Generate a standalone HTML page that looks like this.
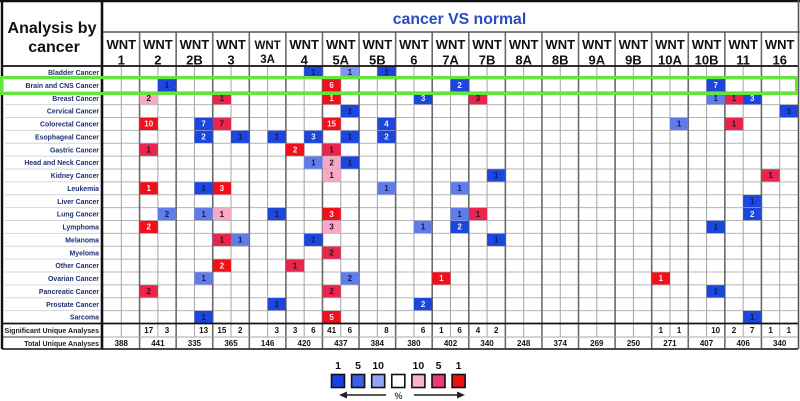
<!DOCTYPE html>
<html>
<head>
<meta charset="utf-8">
<style>
html,body{margin:0;padding:0;background:#fff;}
svg{display:block;font-family:"Liberation Sans",sans-serif;filter:blur(0.35px);}
</style>
</head>
<body>
<svg id="chart" width="800" height="401" viewBox="0 0 800 401" xmlns="http://www.w3.org/2000/svg">
  <text x="52" y="33" font-size="16" font-weight="bold" text-anchor="middle" fill="#111">Analysis by</text>
  <text x="54" y="52" font-size="16" font-weight="bold" text-anchor="middle" fill="#111">cancer</text>
  <text x="459.5" y="24" font-size="15.8" font-weight="bold" text-anchor="middle" fill="#2a4cc0">cancer VS normal</text>
  <g id="grid"></g>
  <g id="cells"></g>
  <g id="labels"></g>
  <g id="frame"></g>
  <rect x="1.5" y="77.5" width="795" height="16" fill="none" stroke="#62e63a" stroke-width="3"></rect>
  <g id="legend"></g>
</svg>
<script>
const genes = ["1","2","2B","3","3A","4","5A","5B","6","7A","7B","8A","8B","9A","9B","10A","10B","11","16"];
const cancers = ["Bladder Cancer","Brain and CNS Cancer","Breast Cancer","Cervical Cancer","Colorectal Cancer","Esophageal Cancer","Gastric Cancer","Head and Neck Cancer","Kidney Cancer","Leukemia","Liver Cancer","Lung Cancer","Lymphoma","Melanoma","Myeloma","Other Cancer","Ovarian Cancer","Pancreatic Cancer","Prostate Cancer","Sarcoma"];
// [cancer, gene, analyses count, percentile rank]
const overExpressed = [
 ["Brain and CNS Cancer","5A",6,1],
 ["Breast Cancer","2",2,10],["Breast Cancer","3",1,5],["Breast Cancer","5A",1,1],["Breast Cancer","7B",3,5],["Breast Cancer","11",1,5],
 ["Colorectal Cancer","2",10,1],["Colorectal Cancer","3",7,5],["Colorectal Cancer","5A",15,1],["Colorectal Cancer","11",1,5],
 ["Gastric Cancer","2",1,5],["Gastric Cancer","4",2,1],["Gastric Cancer","5A",1,5],
 ["Head and Neck Cancer","5A",2,10],
 ["Kidney Cancer","5A",1,10],["Kidney Cancer","16",1,5],
 ["Leukemia","2",1,1],["Leukemia","3",3,1],
 ["Lung Cancer","3",1,10],["Lung Cancer","5A",3,1],["Lung Cancer","7B",1,5],
 ["Lymphoma","2",2,1],["Lymphoma","5A",3,10],
 ["Melanoma","3",1,5],
 ["Myeloma","5A",2,5],
 ["Other Cancer","3",2,1],["Other Cancer","4",1,5],
 ["Ovarian Cancer","7A",1,1],["Ovarian Cancer","10A",1,1],
 ["Pancreatic Cancer","2",2,5],["Pancreatic Cancer","5A",2,5],
 ["Sarcoma","5A",5,1]
];
const underExpressed = [
 ["Bladder Cancer","4",1,1],["Bladder Cancer","5A",1,10],["Bladder Cancer","5B",1,1],
 ["Brain and CNS Cancer","2",1,1],["Brain and CNS Cancer","7A",2,1],["Brain and CNS Cancer","10B",7,1],
 ["Breast Cancer","6",3,1],["Breast Cancer","10B",1,5],["Breast Cancer","11",3,1],
 ["Cervical Cancer","5A",1,1],["Cervical Cancer","16",1,1],
 ["Colorectal Cancer","2B",7,1],["Colorectal Cancer","5B",4,1],["Colorectal Cancer","10A",1,5],
 ["Esophageal Cancer","2B",2,1],["Esophageal Cancer","3",1,1],["Esophageal Cancer","3A",1,1],["Esophageal Cancer","4",3,1],["Esophageal Cancer","5A",1,1],["Esophageal Cancer","5B",2,1],
 ["Head and Neck Cancer","4",1,5],["Head and Neck Cancer","5A",1,1],
 ["Kidney Cancer","7B",1,1],
 ["Leukemia","2B",1,1],["Leukemia","5B",1,5],["Leukemia","7A",1,5],
 ["Liver Cancer","11",1,1],
 ["Lung Cancer","2",2,5],["Lung Cancer","2B",1,5],["Lung Cancer","3A",1,1],["Lung Cancer","7A",1,5],["Lung Cancer","11",2,1],
 ["Lymphoma","6",1,5],["Lymphoma","7A",2,1],["Lymphoma","10B",1,1],
 ["Melanoma","3",1,5],["Melanoma","4",1,1],["Melanoma","7B",1,1],
 ["Ovarian Cancer","2B",1,5],["Ovarian Cancer","5A",2,5],
 ["Pancreatic Cancer","10B",1,1],
 ["Prostate Cancer","3A",1,1],["Prostate Cancer","6",2,1],
 ["Sarcoma","2B",1,1],["Sarcoma","11",1,1]
];
const significantOver = ["","17","","15","","3","41","","","1","4","","","","","1","","2","1"];
const significantUnder = ["","3","13","2","3","6","6","8","6","6","2","","","","","1","10","7","1"];
const totalAnalyses = [388,441,335,365,146,420,437,384,380,402,340,248,374,269,250,271,407,406,340];
const legendRanks = [1,5,10,0,10,5,1];

const NS = "http://www.w3.org/2000/svg";
const gridG = document.getElementById("grid");
const cellsG = document.getElementById("cells");
const labelsG = document.getElementById("labels");
const frameG = document.getElementById("frame");
const legendG = document.getElementById("legend");

const colX = i => 103 + i * (798 - 103) / genes.length;
const rowY = i => 66 + i * (323.5 - 66) / cancers.length;
const geneX = g => colX(genes.indexOf(g));
const cancerY = c => rowY(cancers.indexOf(c));
const halfW = () => (colX(1) - colX(0)) / 2;
const overFill = r => r === 1 ? "#f0101c" : r === 5 ? "#e8254c" : "#f7a8c8";
const underFill = r => r === 1 ? "#1c46dc" : r === 5 ? "#5f7ce8" : "#7f97f0";

function mk(parent, tag, attrs, txt) {
  const el = document.createElementNS(NS, tag);
  for (const k in attrs) el.setAttribute(k, attrs[k]);
  if (txt !== undefined) el.textContent = txt;
  parent.appendChild(el);
  return el;
}
function line(parent, x1, y1, x2, y2, color, w, name) {
  const el = mk(parent, "line", {x1, y1, x2, y2, stroke: color, "stroke-width": w});
  
  
  return el;
}

// row lines
for (let i = 1; i < cancers.length; i++) {
  line(gridG, 5, rowY(i), 102, rowY(i), "#d4d6dc", 1, "label-row-line");
  line(gridG, 103, rowY(i), 798, rowY(i), "#b5b5b5", 1, "row-line");
}
// column lines
genes.forEach((g, i) => {
  line(gridG, colX(i) + halfW(), 66, colX(i) + halfW(), 337, "#a5a5a5", 1, "half-column-line");
});
for (let i = 1; i < genes.length; i++) {
  line(gridG, colX(i), 32, colX(i), 349, "#6a6a6a", 1.6, "column-line");
}

// cells
function drawCell(row, side, fill, textFill) {
  const x = geneX(row[1]) + (side === "over" ? 0 : halfW());
  const y = cancerY(row[0]);
  const h = rowY(1) - rowY(0);
  const r = mk(cellsG, "rect", {x: x, y: y + 0.3, width: halfW(), height: h - 0.6, fill: fill});
  
  
  const t = mk(cellsG, "text", {x: x + halfW() / 2, y: y + h / 2 + 2.8, "font-size": 8, "font-weight": "bold", "text-anchor": "middle", fill: textFill}, row[2]);
  
  
}
overExpressed.forEach(d => drawCell(d, "over", overFill(d[3]), d[3] === 1 ? "#ffe8e8" : "#301018"));
underExpressed.forEach(d => drawCell(d, "under", underFill(d[3]), d[2] > 1 && d[3] === 1 ? "#e4ecff" : "#0c1a60"));

// gene headers
genes.forEach((g, i) => {
  const cx = colX(i) + halfW();
  const small = g === "3A";
  const a = mk(labelsG, "text", {x: cx, y: 49, "font-size": small ? 11.5 : 13, "font-weight": "bold", "text-anchor": "middle", fill: "#111"}, "WNT");
  
  
  const b = mk(labelsG, "text", {x: cx, y: small ? 63 : 64.5, "font-size": small ? 11.5 : 13, "font-weight": "bold", "text-anchor": "middle", fill: "#111"}, g);
  
  
});

// cancer labels
cancers.forEach((c, i) => {
  const t = mk(labelsG, "text", {x: 99, y: rowY(i) + 9, "font-size": 6.9, "font-weight": "bold", "text-anchor": "end", fill: "#1f3070"}, c);
  
  
});

// summary rows
const sig = mk(labelsG, "text", {x: 99, y: 333, "font-size": 7.05, "font-weight": "bold", "text-anchor": "end", fill: "#222"}, "Significant Unique Analyses");


const tot = mk(labelsG, "text", {x: 99, y: 346, "font-size": 7.05, "font-weight": "bold", "text-anchor": "end", fill: "#222"}, "Total Unique Analyses");


genes.forEach((g, i) => {
  const a = mk(labelsG, "text", {x: colX(i) + halfW() / 2, y: 333, "font-size": 8, "font-weight": "bold", "text-anchor": "middle", fill: "#111"}, significantOver[i]);
  
  
  const b = mk(labelsG, "text", {x: colX(i) + halfW() * 1.5, y: 333, "font-size": 8, "font-weight": "bold", "text-anchor": "middle", fill: "#111"}, significantUnder[i]);
  
  
  const c = mk(labelsG, "text", {x: colX(i) + halfW(), y: 346, "font-size": 8, "font-weight": "bold", "text-anchor": "middle", fill: "#111"}, totalAnalyses[i]);
  
  
});

// frame
line(frameG, 0, 1, 800, 1, "#111", 2.4, "top-border");
line(frameG, 103, 32, 800, 32, "#555", 1.6, "title-divider");
line(frameG, 2, 66, 798, 66, "#111", 1.8, "header-divider");
line(frameG, 2, 323.5, 798, 323.5, "#111", 1.8, "summary-divider");
line(frameG, 2, 337, 102, 337, "#333", 1, "summary-label-divider");
line(frameG, 103, 337, 798, 337, "#aaa", 1, "summary-row-divider");
line(frameG, 2, 349, 798, 349, "#333", 1.8, "bottom-border");
line(frameG, 2, 0, 2, 349, "#111", 2.4, "left-border");
line(frameG, 102, 0, 102, 349, "#111", 2.6, "panel-divider");
line(frameG, 798.5, 0, 798.5, 349, "#555", 1.6, "right-border");

// legend
legendRanks.forEach((r, i) => {
  const cx = 338 + i * 20.1;
  const fill = r === 0 ? "#fff" : i < 3 ? (r === 1 ? "#1a3fe6" : r === 5 ? "#3d5ee6" : "#93a5f2") : (r === 1 ? "#ee1010" : r === 5 ? "#ee3a78" : "#f9b4d2");
  const box = mk(legendG, "rect", {x: cx - 6.5, y: 374.5, width: 13, height: 13, fill: fill, stroke: "#111", "stroke-width": 1.6});
  
  
  if (r) {
    const t = mk(legendG, "text", {x: cx, y: 369, "font-size": 10.5, "font-weight": "bold", "text-anchor": "middle", fill: "#111"}, r);
    
    
  }
});
line(legendG, 345, 395, 386, 395, "#222", 1.4, "legend-arrow-left-shaft");
line(legendG, 414, 395, 460, 395, "#222", 1.4, "legend-arrow-right-shaft");
const la = mk(legendG, "polygon", {points: "339,395 347,391.5 347,398.5", fill: "#222"});


const ra = mk(legendG, "polygon", {points: "465,395 457,391.5 457,398.5", fill: "#222"});


const pct = mk(legendG, "text", {x: 398.5, y: 399, "font-size": 9, "font-weight": "bold", "text-anchor": "middle", fill: "#444"}, "%");


</script>
</body>
</html>
